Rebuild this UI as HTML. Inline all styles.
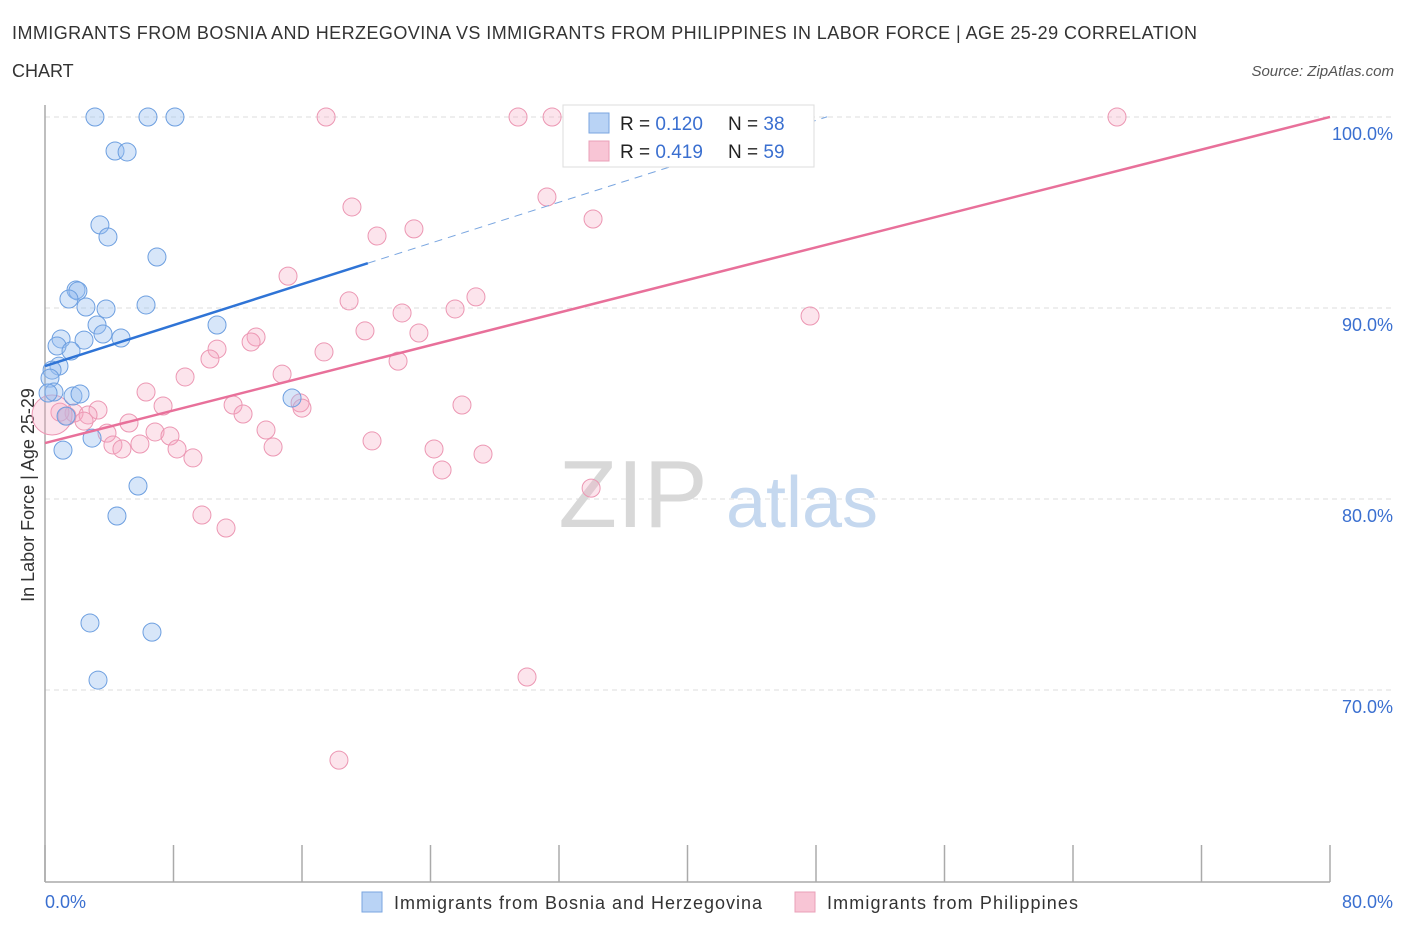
<!DOCTYPE html>
<html><head><meta charset="utf-8"><style>
body{margin:0;background:#fff;font-family:"Liberation Sans",sans-serif;}
svg text{font-family:"Liberation Sans",sans-serif;}
</style></head><body>
<svg width="1406" height="930" viewBox="0 0 1406 930" xmlns="http://www.w3.org/2000/svg">
<text x="12" y="39" font-size="18" fill="#333" textLength="1185" lengthAdjust="spacing">IMMIGRANTS FROM BOSNIA AND HERZEGOVINA VS IMMIGRANTS FROM PHILIPPINES IN LABOR FORCE | AGE 25-29 CORRELATION</text>
<text x="12" y="77" font-size="18" fill="#333">CHART</text>
<text x="1394" y="76" font-size="15" fill="#555" font-style="italic" text-anchor="end">Source: ZipAtlas.com</text>
<g id="grid"></g>
<g>
<text x="633" y="527" font-size="96" font-family="Liberation Serif" fill="#d8d8d8" text-anchor="middle">ZIP</text>
<text x="802" y="527" font-size="72" fill="#c5d8ef" text-anchor="middle">atlas</text>
</g>
<line x1="45" y1="105" x2="45" y2="882" stroke="#aaa" stroke-width="1.5"/>
<line x1="45" y1="882" x2="1330" y2="882" stroke="#aaa" stroke-width="1.5"/>
<g id="xticks"></g>
<g id="ylabels"></g>
<text x="45" y="908" font-size="18" fill="#3a6fd0">0.0%</text>
<text x="1393" y="908" font-size="18" fill="#3a6fd0" text-anchor="end">80.0%</text>
<text transform="translate(34,495) rotate(-90)" font-size="18" fill="#333" text-anchor="middle">In Labor Force | Age 25-29</text>
<g id="pinkpts"></g>
<g id="bluepts"></g>
<g id="lines"></g>
<g>
<rect x="563" y="105" width="251" height="62" fill="#fff" stroke="#ddd"/>
<rect x="589" y="113" width="20" height="20" fill="#b9d3f5" stroke="#7aa6e0"/>
<rect x="589" y="141" width="20" height="20" fill="#f8c5d5" stroke="#eaa0b8"/>
<text x="620" y="130" font-size="19" fill="#222">R = <tspan fill="#3a6fd0">0.120</tspan></text>
<text x="728" y="130" font-size="19" fill="#222">N = <tspan fill="#3a6fd0">38</tspan></text>
<text x="620" y="158" font-size="19" fill="#222">R = <tspan fill="#3a6fd0">0.419</tspan></text>
<text x="728" y="158" font-size="19" fill="#222">N = <tspan fill="#3a6fd0">59</tspan></text>
</g>
<g>
<rect x="362" y="892" width="20" height="20" fill="#b9d3f5" stroke="#7aa6e0"/>
<text x="394" y="909" font-size="18" fill="#333" textLength="368" lengthAdjust="spacing">Immigrants from Bosnia and Herzegovina</text>
<rect x="795" y="892" width="20" height="20" fill="#f8c5d5" stroke="#eaa0b8"/>
<text x="827" y="909" font-size="18" fill="#333" textLength="251" lengthAdjust="spacing">Immigrants from Philippines</text>
</g>
</svg>
<script>
const yTicks=[100,90,80,70];
const yTickLabels=["100.0%","90.0%","80.0%","70.0%"];
const xTickVals=[0,8,16,24,32,40,48,56,64,72,80];
const blueX=[3.11,6.41,8.09,4.36,5.11,3.42,3.92,6.97,1.93,2.05,1.49,2.55,3.80,6.29,3.24,10.71,3.61,1.00,4.73,2.43,0.75,1.62,0.87,0.44,0.31,0.56,1.74,2.18,0.19,1.31,15.38,2.93,1.12,5.79,4.48,2.80,6.66,3.30];
const blueY=[100,100,100,98.22,98.17,94.35,93.72,92.67,90.94,90.89,90.47,90.05,89.95,90.16,89.11,89.11,88.64,88.38,88.43,88.32,88.01,87.75,86.96,86.75,86.33,85.60,85.39,85.50,85.55,84.34,85.29,83.19,82.56,80.68,79.11,73.51,73.03,70.52];
const pinkX=[17.50,29.45,31.57,66.74,31.25,19.11,34.12,20.67,22.97,15.13,26.83,18.93,25.53,22.23,47.63,19.92,23.28,13.14,12.83,10.71,17.37,10.27,21.98,8.72,14.76,6.29,15.88,11.71,7.35,25.96,16.00,12.33,3.30,1.81,2.68,0.93,5.23,2.43,3.86,6.85,7.78,13.76,20.36,5.91,4.23,4.79,24.22,8.22,9.21,27.27,14.20,24.72,34.00,9.77,11.27,30.01,18.30,1.37,0.44];
const pinkY=[100,100,100,100,95.81,95.29,94.66,93.77,94.14,91.67,90.58,90.37,89.95,89.74,89.58,88.80,88.69,88.48,88.22,87.85,87.70,87.33,87.22,86.39,86.54,85.60,85.03,84.92,84.87,84.92,84.76,84.45,84.66,84.50,84.40,84.55,83.98,84.08,83.45,83.51,83.30,83.61,83.04,82.88,82.83,82.62,82.62,82.62,82.15,82.35,82.72,81.52,80.57,79.16,78.48,70.68,66.33,84.34,84.40];
const blueTrend=[86.96,0.268];
const pinkTrend=[82.93,0.2134];
const NS="http://www.w3.org/2000/svg";
const X=v=>45+v/80*1285;
const Y=v=>117+(100-v)*19.1;
function mk(t,a,p){const e=document.createElementNS(NS,t);for(const k in a)e.setAttribute(k,a[k]);p.appendChild(e);return e;}
const grid=document.getElementById('grid');
yTicks.forEach((v,i)=>{
 const l=mk('line',{x1:45,x2:1395,y1:Y(v),y2:Y(v),stroke:'#ddd','stroke-dasharray':'5,4'},grid);
 
 
 const t=mk('text',{x:1393,y:Y(v)+23,'font-size':18,fill:'#3a6fd0','text-anchor':'end'},document.getElementById('ylabels'));
 t.textContent=yTickLabels[i];
 
 
});
xTickVals.forEach(v=>{
 const l=mk('line',{x1:X(v),x2:X(v),y1:845,y2:882,stroke:'#aaa','stroke-width':1.5},document.getElementById('xticks'));
 
 
});
const pp=document.getElementById('pinkpts');
pinkX.forEach((x,i)=>{
 const r=(i===pinkX.length-1)?20:9;
 const c=mk('circle',{cx:X(x),cy:Y(pinkY[i]),r:r,fill:'rgba(245,165,192,0.3)',stroke:'#ec97b3','stroke-width':1},pp);
 
 
});
const bp=document.getElementById('bluepts');
blueX.forEach((x,i)=>{
 const c=mk('circle',{cx:X(x),cy:Y(blueY[i]),r:9,fill:'rgba(150,190,240,0.38)',stroke:'#6d9fe0','stroke-width':1},bp);
 
 
});
const lg=document.getElementById('lines');
const bl=mk('line',{x1:X(0),y1:Y(blueTrend[0]),x2:X(20.1),y2:Y(blueTrend[0]+blueTrend[1]*20.1),stroke:'#2f74d6','stroke-width':2.5},lg);


const bd=mk('line',{x1:X(20.1),y1:Y(blueTrend[0]+blueTrend[1]*20.1),x2:X(48.7),y2:Y(blueTrend[0]+blueTrend[1]*48.7),stroke:'#7aa6e0','stroke-width':1,'stroke-dasharray':'8,6'},lg);


const pl=mk('line',{x1:X(0),y1:Y(pinkTrend[0]),x2:X(80),y2:Y(pinkTrend[0]+pinkTrend[1]*80),stroke:'#e8709a','stroke-width':2.5},lg);


</script>
</body></html>
